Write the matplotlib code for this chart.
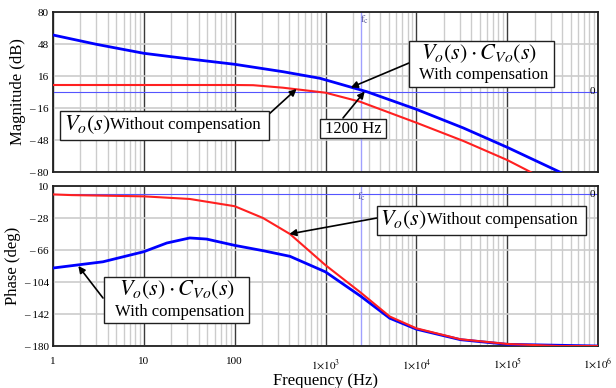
import matplotlib
matplotlib.use("Agg")
import matplotlib.pyplot as plt
from matplotlib.patches import Rectangle

plt.rcParams["font.family"] = ["Liberation Serif", "DejaVu Serif"]
plt.rcParams["mathtext.fontset"] = "stix"

# magnitude (dB)
mag_freq_comp = [1, 3, 10, 32, 100, 340, 870, 2850, 1e4, 3.3e4, 1e5, 4e5]
mag_comp = [57, 47.7, 38.7, 33, 27.7, 20.3, 13.7, 0.3, -17.3, -36, -55.3, -81]
mag_freq_plant = [1, 10, 100, 160, 340, 1000, 2400, 1e4, 3.3e4, 1e5, 1.9e5]
mag_plant = [7, 7, 7, 6.8, 4.3, -0.7, -9.7, -30.7, -49, -68, -81]

# phase (deg)
ph_freq_comp = [1, 3.55, 10, 17.9, 32, 49, 100, 205, 406, 1000, 2450, 5100,
                1e4, 3.06e4, 1e5, 1e6]
ph_comp = [-87.4, -80, -68, -57.7, -51.7, -53, -60.5, -66.8, -73.5, -92,
           -121, -147, -160, -172.5, -178, -180]
ph_freq_plant = [1, 1.6, 10, 32, 100, 205, 406, 1000, 2450, 5100, 1e4,
                 3.06e4, 1e5, 3.7e5, 1e6]
ph_plant = [0, -0.8, -2.3, -5.4, -14, -28, -47, -84, -116.7, -145, -159,
            -172, -177.6, -180, -180]

f_cross = 2450
mag_ticks = [-80, -48, -16, 16, 48, 80]
ph_ticks = [-180, -142, -104, -66, -28, 10]
x_ticks = [1, 10, 100, 1e3, 1e4, 1e5, 1e6]
x_labels = ["1", "10", "100", r"$1{\times}10^{3}$", r"$1{\times}10^{4}$",
            r"$1{\times}10^{5}$", r"$1{\times}10^{6}$"]

W, H = 616, 388
fig = plt.figure(figsize=(W / 100, H / 100), dpi=100)
ax1 = fig.add_axes([53 / W, 1 - 172 / H, 545 / W, 160 / H])
ax2 = fig.add_axes([53 / W, 1 - 346 / H, 545 / W, 160 / H])


def tick_label(v):
    return f"– {abs(v)}" if v < 0 else str(v)


for ax, ticks in ((ax1, mag_ticks), (ax2, ph_ticks)):
    ax.set_xscale("log")
    ax.set_xlim(1, 1e6)
    ax.set_ylim(ticks[0], ticks[-1])
    ax.set_yticks(ticks)
    ax.set_yticklabels([tick_label(t) for t in ticks], fontsize=8)
    ax.set_xticks(x_ticks)
    ax.tick_params(which="both", length=0, pad=3)
    ax.grid(True, which="minor", axis="x", color="#cccccc", lw=1)
    ax.grid(True, which="major", axis="x", color="#3a3a3a", lw=1)
    ax.grid(True, which="major", axis="y", color="#cccccc", lw=1.2)
    ax.set_axisbelow(True)
    for s in ax.spines.values():
        s.set_color("#202020")
        s.set_linewidth(1.3)
    ax.axhline(0, color="#5555ff", lw=0.8, zorder=2)
    ax.axvline(f_cross, color="#a0a0ff", lw=1, zorder=2)
    ax.text(0.99, 0, "0", transform=ax.get_yaxis_transform(), fontsize=8,
            ha="center", va="center", zorder=3)

ax1.set_xticklabels([])
ax2.set_xticklabels(x_labels, fontsize=8)
ax2.tick_params(axis="x", pad=8)

ax1.plot(mag_freq_plant, mag_plant, color="#ff2020", lw=1.5, zorder=4)
ax1.plot(mag_freq_comp, mag_comp, color="#0000ff", lw=2, zorder=5)
ax2.plot(ph_freq_comp, ph_comp, color="#0000ff", lw=2, zorder=4)
ax2.plot(ph_freq_plant, ph_plant, color="#ff2020", lw=1.5, zorder=5)

ax1.set_ylabel("Magnitude (dB)", fontsize=12, labelpad=2)
ax2.set_ylabel("Phase (deg)", fontsize=12, labelpad=2)
ax2.set_xlabel("Frequency (Hz)", fontsize=12, labelpad=1)

fig.text(365 / W, 1 - 20 / H, r"$\mathrm{f_c}$", color="#6060a0", fontsize=8,
         ha="center", va="center")
fig.text(362 / W, 1 - 197 / H, r"$\mathrm{f_c}$", color="#6060a0", fontsize=8,
         ha="center", va="center")


def px(x, y):
    return x / W, 1 - y / H


def box(x0, y0, x1, y1):
    fig.patches.append(Rectangle(px(x0, y1), (x1 - x0) / W, (y1 - y0) / H,
                                 transform=fig.transFigure, facecolor="white",
                                 edgecolor="#202020", lw=1, zorder=10))


def arrow(ax, xy, tail):
    ax.annotate("", xy=xy, xytext=px(*tail), textcoords="figure fraction",
                arrowprops=dict(arrowstyle="-|>", color="black", lw=1.2,
                                mutation_scale=10, shrinkA=0, shrinkB=0),
                zorder=11, annotation_clip=False)


comp_math = r"$V_o(s)\cdot C_{Vo}(s)$"
plant_math = r"$V_o(s)$"

# top panel labels
box(409, 41, 554, 87)
fig.text(*px(479, 54), comp_math, fontsize=16, ha="center", va="center", zorder=12)
fig.text(*px(484, 75), "With compensation", fontsize=12, ha="center", va="center", zorder=12)
arrow(ax1, (1900, 4.5), (409, 63))

box(60, 111, 269, 140)
fig.text(*px(64, 125), plant_math, fontsize=16, ha="left", va="center", zorder=12)
fig.text(*px(110, 125), "Without compensation", fontsize=12, ha="left", va="center", zorder=12)
arrow(ax1, (480, 3), (268, 115))

box(320, 119, 386, 138)
fig.text(*px(353, 129), "1200 Hz", fontsize=12, ha="center", va="center", zorder=12)
arrow(ax1, (2700, 0.5), (343, 118))

# bottom panel labels
box(377, 206, 586, 235)
fig.text(*px(380, 220), plant_math, fontsize=16, ha="left", va="center", zorder=12)
fig.text(*px(427, 220), "Without compensation", fontsize=12, ha="left", va="center", zorder=12)
arrow(ax2, (400, -47), (377, 218))

box(104, 277, 249, 323)
fig.text(*px(177, 290), comp_math, fontsize=16, ha="center", va="center", zorder=12)
fig.text(*px(180, 312), "With compensation", fontsize=12, ha="center", va="center", zorder=12)
arrow(ax2, (1.9, -85), (103, 298))

fig.savefig("out.png", dpi=100)
